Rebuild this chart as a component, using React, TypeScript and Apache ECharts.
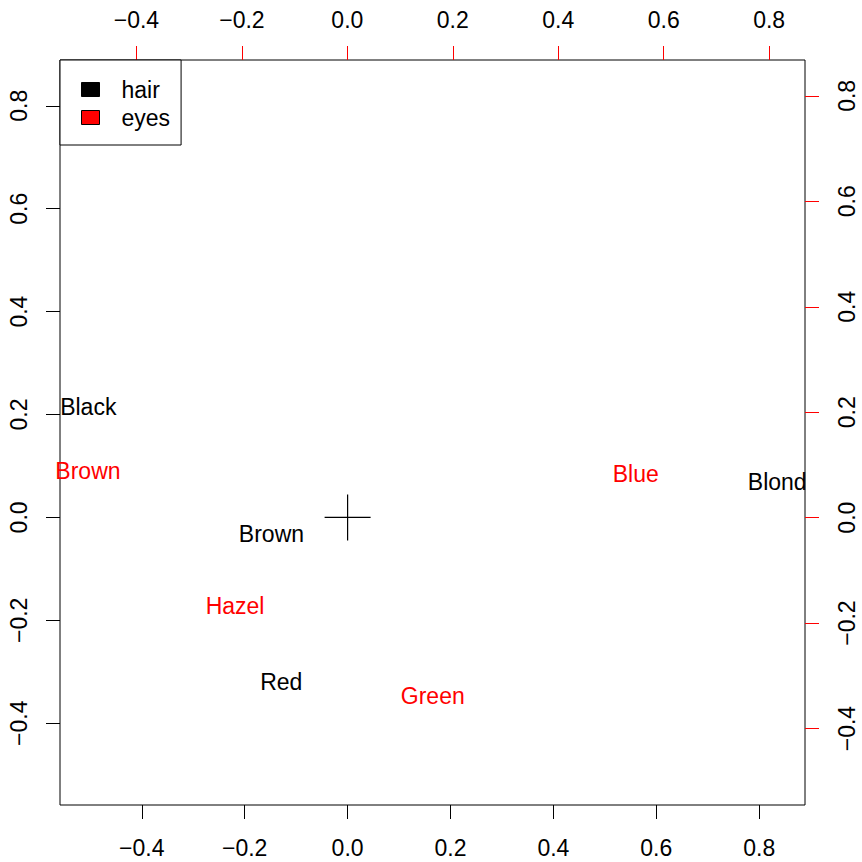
import React, { useEffect, useRef } from "react";
import * as echarts from "echarts";

const hairNames = ["Black", "Brown", "Red", "Blond"];
const hairX = [-0.504, -0.148, -0.129, 0.835];
const hairY = [0.215, -0.033, -0.32, 0.069];

const eyeNames = ["Brown", "Blue", "Hazel", "Green"];
const eyeX = [-0.492, 0.547, -0.213, 0.162];
const eyeY = [0.088, 0.083, -0.167, -0.339];

const tickValues = [-0.4, -0.2, 0, 0.2, 0.4, 0.6, 0.8];
const primaryRange = [-0.559, 0.889];
const secondaryRange = [-0.545, 0.868];
const legendNames = ["hair", "eyes"];

const FONT = "'Liberation Sans', Arial, Helvetica, sans-serif";
const FS = 23;

const fmt = (v: number) => {
  const s = Number(v).toFixed(1);
  return s.startsWith("-") ? "\u2212" + s.slice(1) : s;
};

function makeAxis(position: string, range: number[], tickColor: string, rotate: number, margin: number) {
  return {
    type: "value",
    position,
    min: range[0],
    max: range[1],
    axisLine: { show: false, onZero: false },
    splitLine: { show: false },
    axisTick: {
      show: true,
      inside: false,
      length: 14,
      customValues: tickValues,
      lineStyle: { color: tickColor, width: 1 },
    },
    axisLabel: {
      show: true,
      customValues: tickValues,
      formatter: fmt,
      rotate,
      margin,
      color: "#000",
      fontSize: FS,
      lineHeight: FS,
      fontFamily: FONT,
    },
  };
}

export default function App() {
  const ref = useRef<HTMLDivElement>(null);
  useEffect(() => {
    document.body.style.margin = "0";
    const chart = echarts.init(ref.current!, null, { renderer: "svg" });
    const labelCommon = {
      show: true,
      position: "inside",
      fontSize: FS,
      fontFamily: FONT,
      opacity: 1,
      formatter: (p: any) => p.name,
    };
    chart.setOption({
      animation: false,
      backgroundColor: "#fff",
      grid: {
        left: 60,
        top: 60,
        width: 745,
        height: 745,
        show: true,
        borderColor: "#000",
        borderWidth: 1,
        backgroundColor: "transparent",
      },
      xAxis: [
        makeAxis("bottom", primaryRange, "#000", 0, 31),
        makeAxis("top", secondaryRange, "#f00", 0, 29),
      ],
      yAxis: [
        makeAxis("left", primaryRange, "#000", 90, 30),
        makeAxis("right", secondaryRange, "#f00", 90, 30),
      ],
      legend: {
        show: true,
        orient: "vertical",
        left: 60,
        top: 60,
        padding: [18, 11, 16, 21],
        itemGap: 5,
        itemWidth: 18,
        itemHeight: 14,
        selectedMode: false,
        borderColor: "#000",
        borderWidth: 1,
        backgroundColor: "#fff",
        textStyle: {
          fontSize: FS,
          lineHeight: FS,
          fontFamily: FONT,
          color: "#000",
          padding: [0, 0, 0, 17],
        },
        data: [
          { name: legendNames[0], icon: "rect", itemStyle: { color: "#000", opacity: 1, borderColor: "#000", borderWidth: 1 } },
          { name: legendNames[1], icon: "rect", itemStyle: { color: "#f00", opacity: 1, borderColor: "#000", borderWidth: 1 } },
        ],
      },
      series: [
        {
          name: legendNames[0],
          type: "scatter",
          xAxisIndex: 0,
          yAxisIndex: 0,
          symbolSize: 0,
          itemStyle: { color: "#000", opacity: 1 },
          label: { ...labelCommon, color: "#000" },
          data: hairNames.map((n, i) => ({ name: n, value: [hairX[i], hairY[i]] })),
        },
        {
          name: legendNames[1],
          type: "scatter",
          xAxisIndex: 1,
          yAxisIndex: 1,
          symbolSize: 0,
          itemStyle: { color: "#f00", opacity: 1 },
          label: { ...labelCommon, color: "#f00" },
          data: eyeNames.map((n, i) => ({ name: n, value: [eyeX[i], eyeY[i]] })),
        },
        {
          name: "origin",
          type: "scatter",
          xAxisIndex: 0,
          yAxisIndex: 0,
          symbol: "path://M1,0L1,2M0,1L2,1",
          symbolSize: 46,
          itemStyle: { color: "none", borderColor: "#000", borderWidth: 1.2, opacity: 1 },
          data: [[0, 0]],
        },
      ],
    });
    return () => chart.dispose();
  }, []);
  return <div ref={ref} style={{ width: 862, height: 862 }} />;
}
